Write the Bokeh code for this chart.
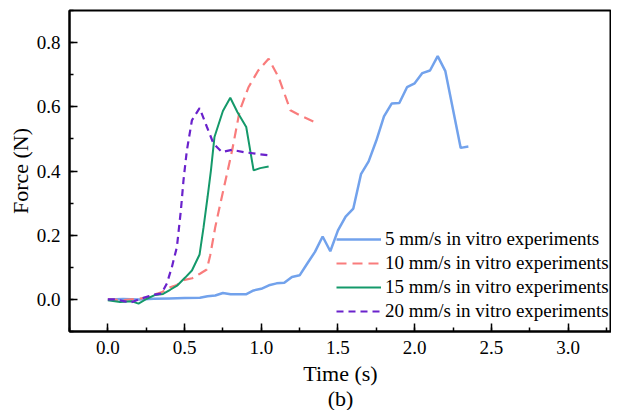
from bokeh.plotting import figure
from bokeh.models import Range1d, SingleIntervalTicker, Legend, LegendItem, Title, CustomJSTickFormatter
from bokeh.embed import file_html
from bokeh.resources import INLINE

# ---- data ----
t_5 = [0.0, 0.1, 0.2, 0.3, 0.4, 0.5, 0.6, 0.65, 0.7, 0.75, 0.8, 0.85, 0.9, 0.95, 1.0,
       1.05, 1.1, 1.15, 1.2, 1.25, 1.3, 1.35, 1.4, 1.45, 1.5, 1.55, 1.6, 1.65, 1.7,
       1.75, 1.8, 1.85, 1.9, 1.95, 2.0, 2.05, 2.1, 2.15, 2.2, 2.3, 2.35]
f_5 = [0.0, 0.001, 0.0, 0.002, 0.003, 0.004, 0.005, 0.01, 0.012, 0.02, 0.016, 0.016,
       0.016, 0.028, 0.033, 0.044, 0.05, 0.052, 0.07, 0.075, 0.112, 0.148, 0.196, 0.15,
       0.215, 0.258, 0.283, 0.39, 0.43, 0.495, 0.57, 0.61, 0.612, 0.661, 0.673, 0.705,
       0.713, 0.758, 0.711, 0.472, 0.476]

t_10 = [0.0, 0.1, 0.2, 0.25, 0.3, 0.35, 0.4, 0.45, 0.5, 0.55, 0.6, 0.645, 0.667, 0.70,
        0.733, 0.776, 0.81, 0.86, 0.917, 0.98, 1.048, 1.113, 1.19, 1.254, 1.374]
f_10 = [0.0, -0.002, 0.002, 0.006, 0.015, 0.022, 0.037, 0.045, 0.061, 0.066, 0.08,
        0.093, 0.137, 0.225, 0.298, 0.39, 0.464, 0.589, 0.661, 0.713, 0.75, 0.692,
        0.589, 0.573, 0.547]

t_15 = [0.0, 0.08, 0.157, 0.2, 0.254, 0.309, 0.36, 0.406, 0.454, 0.504, 0.548, 0.598,
        0.624, 0.65, 0.672, 0.695, 0.75, 0.798, 0.845, 0.902, 0.95, 0.993, 1.048]
f_15 = [-0.003, -0.008, -0.006, -0.013, 0.002, 0.014, 0.017, 0.03, 0.044, 0.068, 0.09,
        0.14, 0.225, 0.319, 0.402, 0.506, 0.587, 0.628, 0.583, 0.537, 0.402, 0.409, 0.414]

t_20 = [0.0, 0.05, 0.11, 0.15, 0.2, 0.3, 0.35, 0.385, 0.417, 0.45, 0.476, 0.493, 0.515,
        0.548, 0.598, 0.646, 0.689, 0.744, 0.809, 0.885, 0.993, 1.048]
f_20 = [0.0, 0.0, -0.006, -0.01, 0.0, 0.015, 0.018, 0.05, 0.1, 0.163, 0.277, 0.371,
        0.464, 0.558, 0.596, 0.537, 0.485, 0.459, 0.466, 0.459, 0.452, 0.449]

labels = ["5 mm/s in vitro experiments", "10 mm/s in vitro experiments",
          "15 mm/s in vitro experiments", "20 mm/s in vitro experiments"]

FONT = "Liberation Serif"

p = figure(width=611, height=410, output_backend="svg", toolbar_location=None,
           x_range=Range1d(-0.25, 3.283), y_range=Range1d(-0.1, 0.9),
           min_border_left=69, min_border_right=0, min_border_top=10, min_border_bottom=79)
p.grid.visible = False
p.background_fill_color = "white"
p.border_fill_color = "white"
p.outline_line_color = "black"
p.outline_line_width = 2

p.xaxis.ticker = SingleIntervalTicker(interval=0.5, num_minor_ticks=2)
p.yaxis.ticker = SingleIntervalTicker(interval=0.2, num_minor_ticks=2)
p.xaxis.formatter = CustomJSTickFormatter(code="return tick.toFixed(1);")
p.yaxis.formatter = CustomJSTickFormatter(code="return tick.toFixed(1);")

for ax in (p.xaxis[0], p.yaxis[0]):
    ax.axis_line_width = 2
    ax.axis_line_color = "black"
    ax.major_tick_in = 8
    ax.major_tick_out = 0
    ax.minor_tick_in = 4
    ax.minor_tick_out = 0
    ax.major_tick_line_width = 1.5
    ax.minor_tick_line_width = 1.5
    ax.major_label_text_font = FONT
    ax.major_label_text_font_size = "19px"
    ax.major_label_text_color = "black"
    ax.axis_label_text_font = FONT
    ax.axis_label_text_font_size = "22px"
    ax.axis_label_text_font_style = "normal"
    ax.axis_label_text_color = "black"

p.xaxis.axis_label = "Time (s)"
p.yaxis.axis_label = "Force (N)"
p.xaxis.major_label_standoff = 9
p.yaxis.major_label_standoff = 9
p.xaxis.axis_label_standoff = 4
p.yaxis.axis_label_standoff = 1

r5 = p.line(t_5, f_5, line_color="#72A2EC", line_width=2.5)
r10 = p.line(t_10, f_10, line_color="#F97C7C", line_width=2.2, line_dash="10 6")
r15 = p.line(t_15, f_15, line_color="#14996A", line_width=2)
r20 = p.line(t_20, f_20, line_color="#6A22CC", line_width=2.2, line_dash="7 5")

legend = Legend(items=[LegendItem(label=labels[0], renderers=[r5]),
                       LegendItem(label=labels[1], renderers=[r10]),
                       LegendItem(label=labels[2], renderers=[r15]),
                       LegendItem(label=labels[3], renderers=[r20])],
                location=(267, 9), border_line_color=None, background_fill_alpha=0,
                padding=0, margin=0, spacing=2, glyph_width=45, glyph_height=20,
                label_height=20, label_standoff=4,
                label_text_font=FONT, label_text_font_size="19px", label_text_color="black")
p.add_layout(legend, "center")

p.add_layout(Title(text="(b)", align="center", text_font=FONT, text_font_size="22px",
                   text_font_style="normal", text_color="black", standoff=-9), "below")

open("out.html", "w").write(file_html(p, INLINE))
